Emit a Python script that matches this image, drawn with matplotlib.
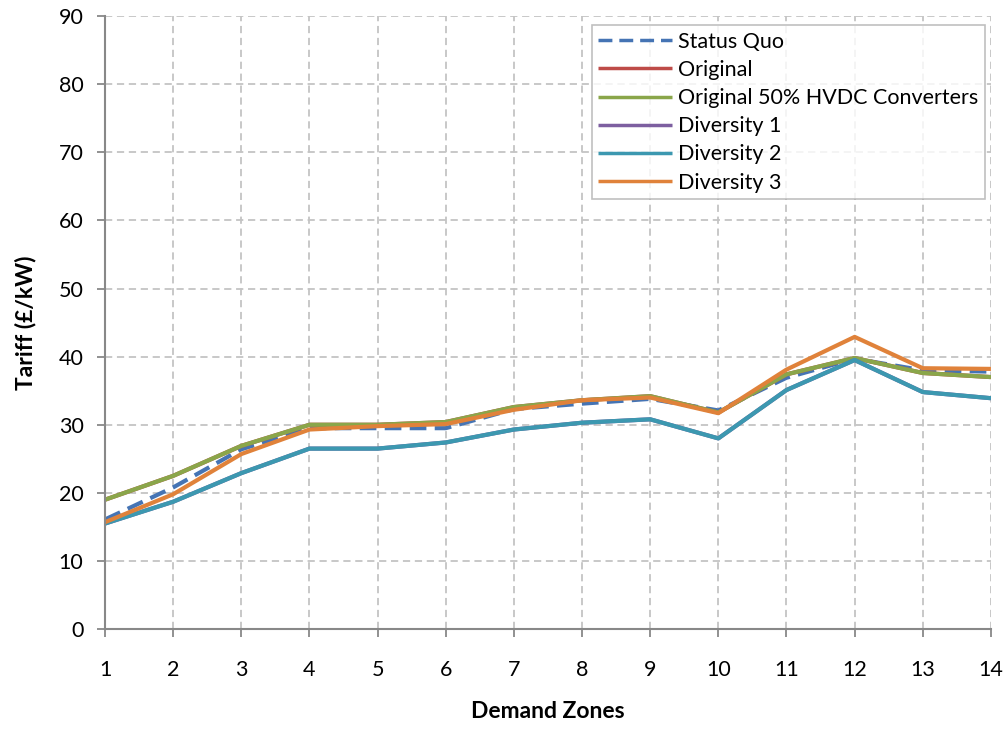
import matplotlib
matplotlib.use("Agg")
import matplotlib.pyplot as plt

# -------------------------------
# Data
# -------------------------------
zones = list(range(1, 15))

status_quo = [16.1, 20.8, 26.4, 29.5, 29.5, 29.5, 32.3, 33.1, 33.8, 32.1, 36.9, 39.7, 38.0, 37.8]
original = [19.0, 22.5, 26.9, 30.0, 30.0, 30.4, 32.6, 33.6, 34.2, 31.8, 37.4, 39.8, 37.6, 37.0]
original_hvdc = [19.0, 22.5, 26.9, 30.0, 30.0, 30.4, 32.6, 33.6, 34.2, 31.8, 37.4, 39.8, 37.6, 37.0]
diversity_1 = [15.5, 18.7, 22.9, 26.5, 26.5, 27.4, 29.3, 30.3, 30.8, 28.0, 35.1, 39.5, 34.8, 33.9]
diversity_2 = [15.5, 18.7, 22.9, 26.5, 26.5, 27.4, 29.3, 30.3, 30.8, 28.0, 35.1, 39.5, 34.8, 33.9]
diversity_3 = [15.7, 19.8, 25.7, 29.3, 29.8, 30.1, 32.2, 33.6, 34.0, 31.7, 38.1, 42.9, 38.3, 38.2]

series = [
    ("Status Quo", status_quo, "#4574b4", "--"),
    ("Original", original, "#be4b48", "-"),
    ("Original 50% HVDC Converters", original_hvdc, "#8aa64a", "-"),
    ("Diversity 1", diversity_1, "#7d5fa0", "-"),
    ("Diversity 2", diversity_2, "#3c98b0", "-"),
    ("Diversity 3", diversity_3, "#e0823a", "-"),
]

# -------------------------------
# Plot
# -------------------------------
plt.rcParams['font.family'] = ['Lato', 'DejaVu Sans']

fig = plt.figure(figsize=(10.05, 7.29), dpi=100)
ax = fig.add_axes([0.1045, 0.137, 0.8815, 0.841])

for name, vals, color, ls in series:
    ax.plot(zones, vals, color=color, linestyle=ls, linewidth=3.0, label=name,
            dashes=(4, 2) if ls == "--" else (None, None), solid_capstyle='butt')

ax.set_xlim(1, 14)
ax.set_ylim(0, 90)
ax.set_xticks(zones)
ax.set_yticks(range(0, 91, 10))

ax.grid(True, color="#c4c4c4", linestyle=(0, (4, 2.6)), linewidth=1.3)
ax.set_axisbelow(True)

for side in ["top", "right"]:
    ax.spines[side].set_visible(False)
for side in ["left", "bottom"]:
    ax.spines[side].set_color("#888888")
    ax.spines[side].set_linewidth(1.5)

ax.tick_params(axis="both", colors="#888888", length=5.5, width=1.3, labelsize=15.5,
               labelcolor="black")
ax.tick_params(axis="x", pad=17)
ax.tick_params(axis="y", pad=10)

ax.set_xlabel("Demand Zones", fontsize=16.5, fontweight="bold", labelpad=15)
ax.set_ylabel("Tariff (£/kW)", fontsize=16.5, fontweight="bold", labelpad=16)

leg = ax.legend(loc="upper right", bbox_to_anchor=(0.993, 0.985),
                prop={"family": "Lato", "size": 15.5}, frameon=True, fancybox=False,
                handlelength=3.4, handletextpad=0.3, borderpad=0.3, labelspacing=0.38,
                borderaxespad=0)
leg.get_frame().set_edgecolor("#b0b0b0")
leg.get_frame().set_linewidth(1.2)
for line in leg.get_lines():
    line.set_linewidth(2.5)

fig.savefig("out.png", dpi=100)
